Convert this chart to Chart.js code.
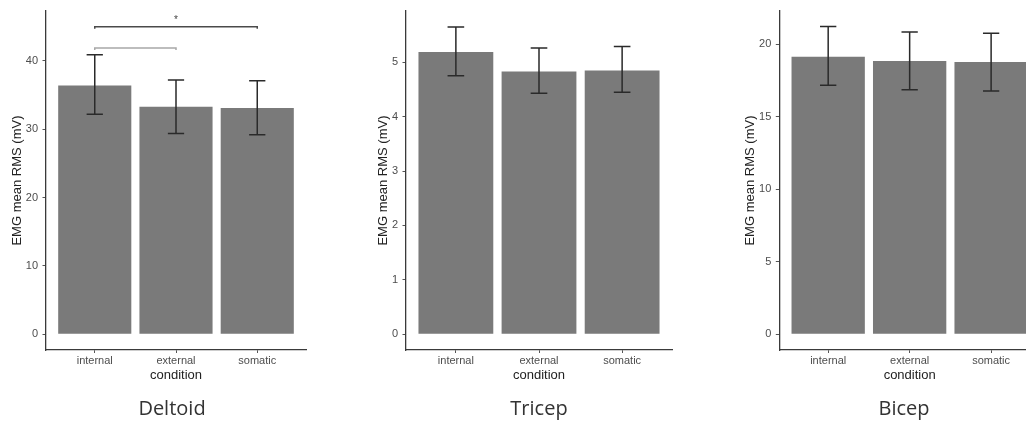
<!DOCTYPE html>
<html><head><meta charset="utf-8">
<script src="https://cdn.jsdelivr.net/npm/chart.js@4.4.1/dist/chart.umd.min.js"></script>
<style>
html,body{margin:0;padding:0;width:1026px;height:421px;overflow:hidden;background:#fff;}
canvas{position:absolute;top:0;}
.name{position:absolute;top:396px;height:24px;line-height:24px;font-family:"Open Sans",sans-serif;font-size:20px;color:#333;transform:translateX(-50%);white-space:nowrap;}
</style></head><body>
<canvas id="c1" width="340" height="421" style="left:0"></canvas>
<canvas id="c2" width="360" height="421" style="left:340px"></canvas>
<canvas id="c3" width="350" height="421" style="left:700px"></canvas>
<div class="name" style="left:172px">Deltoid</div>
<div class="name" style="left:539px">Tricep</div>
<div class="name" style="left:904px">Bicep</div>
<script>
// ---- data ----
const categories = ['internal', 'external', 'somatic'];

const deltoidMean = [36.4, 33.3, 33.1];
const deltoidLow  = [32.2, 29.4, 29.2];
const deltoidHigh = [40.9, 37.2, 37.1];
const deltoidTicks = [0, 10, 20, 30, 40];
const deltoidRange = [-2.3, 47.3];
const deltoidBrackets = [
  {from: 1, to: 3, y: 45.0, label: '*', labelY: 46.3, color: '#4a4a4a'},
  {from: 1, to: 2, y: 41.9, label: '', labelY: 0, color: '#a8a8a8'}
];

const tricepMean = [5.19, 4.83, 4.85];
const tricepLow  = [4.75, 4.43, 4.45];
const tricepHigh = [5.65, 5.26, 5.29];
const tricepTicks = [0, 1, 2, 3, 4, 5];
const tricepRange = [-0.29, 5.94];

const bicepMean = [19.15, 18.85, 18.78];
const bicepLow  = [17.18, 16.88, 16.79];
const bicepHigh = [21.24, 20.85, 20.78];
const bicepTicks = [0, 5, 10, 15, 20];
const bicepRange = [-1.08, 22.3];

const yTitle = 'EMG mean RMS (mV)';
const xTitle = 'condition';

// ---- plugins ----
const errorBarPlugin = {
  id: 'errorBars',
  afterDatasetsDraw(chart, args, opts) {
    const {ctx, scales: {x, y}} = chart;
    ctx.save();
    ctx.strokeStyle = opts.color;
    ctx.lineWidth = opts.width;
    opts.low.forEach((lo, i) => {
      const hi = opts.high[i];
      const v = i + 1;
      const xc = x.getPixelForValue(v);
      const xl = x.getPixelForValue(v - opts.capHalf);
      const xr = x.getPixelForValue(v + opts.capHalf);
      const yl = y.getPixelForValue(lo);
      const yh = y.getPixelForValue(hi);
      ctx.beginPath();
      ctx.moveTo(xc, yl); ctx.lineTo(xc, yh);
      ctx.moveTo(xl, yl); ctx.lineTo(xr, yl);
      ctx.moveTo(xl, yh); ctx.lineTo(xr, yh);
      ctx.stroke();
    });
    ctx.restore();
  }
};

const bracketPlugin = {
  id: 'brackets',
  afterDatasetsDraw(chart, args, opts) {
    if (!opts.items || !opts.items.length) return;
    const {ctx, scales: {x, y}} = chart;
    ctx.save();
    opts.items.forEach(b => {
      const x1 = x.getPixelForValue(b.from);
      const x2 = x.getPixelForValue(b.to);
      const yy = y.getPixelForValue(b.y);
      ctx.strokeStyle = b.color;
      ctx.lineWidth = 1.5;
      ctx.beginPath();
      ctx.moveTo(x1, yy + 2); ctx.lineTo(x1, yy); ctx.lineTo(x2, yy); ctx.lineTo(x2, yy + 2);
      ctx.stroke();
      if (b.label) {
        ctx.fillStyle = '#444';
        ctx.font = '10px "Liberation Sans", Arial, sans-serif';
        ctx.textAlign = 'center';
        ctx.textBaseline = 'middle';
        ctx.fillText(b.label, (x1 + x2) / 2, y.getPixelForValue(b.labelY) + 2);
      }
    });
    ctx.restore();
  }
};

const FONT = '"Liberation Sans", Arial, sans-serif';

function makePanel(id, means, lows, highs, yTicks, yRange, brackets, padL, yWidth, padR) {
  return new Chart(document.getElementById(id), {
    type: 'bar',
    data: {
      datasets: [{
        data: means.map((m, i) => ({x: i + 1, y: m})),
        backgroundColor: '#7a7a7a',
        borderWidth: 0,
        barPercentage: 0.9,
        categoryPercentage: 1.0
      }]
    },
    options: {
      responsive: false,
      animation: false,
      layout: {padding: {left: padL, right: padR, top: 10, bottom: 0}},
      plugins: {
        legend: {display: false},
        tooltip: {enabled: false},
        errorBars: {low: lows, high: highs, capHalf: 0.1, color: '#2a2a2a', width: 1.5},
        brackets: {items: brackets}
      },
      scales: {
        x: {
          type: 'linear', min: 0.4, max: 3.6, offset: false,
          afterBuildTicks: s => { s.ticks = categories.map((c, i) => ({value: i + 1})); },
          afterFit: s => { s.height = 71; },
          ticks: {
            callback: v => categories[v - 1] !== undefined ? categories[v - 1] : '',
            font: {family: FONT, size: 11}, color: '#4d4d4d', padding: 1.5,
            maxRotation: 0, autoSkip: false, includeBounds: false
          },
          grid: {display: true, offset: false, drawOnChartArea: false, drawTicks: true, tickLength: 3, color: '#555', lineWidth: 1},
          border: {display: true, color: '#3a3a3a', width: 1.3},
          title: {display: true, text: xTitle, font: {family: FONT, size: 13}, color: '#222', padding: {top: 0, bottom: 37.7}}
        },
        y: {
          type: 'linear', min: yRange[0], max: yRange[1],
          afterBuildTicks: s => { s.ticks = yTicks.map(v => ({value: v})); },
          afterFit: s => { s.width = yWidth; },
          ticks: {font: {family: FONT, size: 11}, color: '#4d4d4d', padding: 4.5},
          grid: {display: true, offset: false, drawOnChartArea: false, drawTicks: true, tickLength: 3.5, color: '#555', lineWidth: 1},
          border: {display: true, color: '#3a3a3a', width: 1.3},
          title: {display: true, text: yTitle, font: {family: FONT, size: 13}, color: '#222', padding: {top: 9.2, bottom: 0}}
        }
      }
    },
    plugins: [errorBarPlugin, bracketPlugin]
  });
}

makePanel('c1', deltoidMean, deltoidLow, deltoidHigh, deltoidTicks, deltoidRange, deltoidBrackets, 0, 46, 34);
makePanel('c2', tricepMean, tricepLow, tricepHigh, tricepTicks, tricepRange, [], 26, 40, 28);
makePanel('c3', bicepMean, bicepLow, bicepHigh, bicepTicks, bicepRange, [], 33.6, 45.7, 10);
</script>
</body></html>
